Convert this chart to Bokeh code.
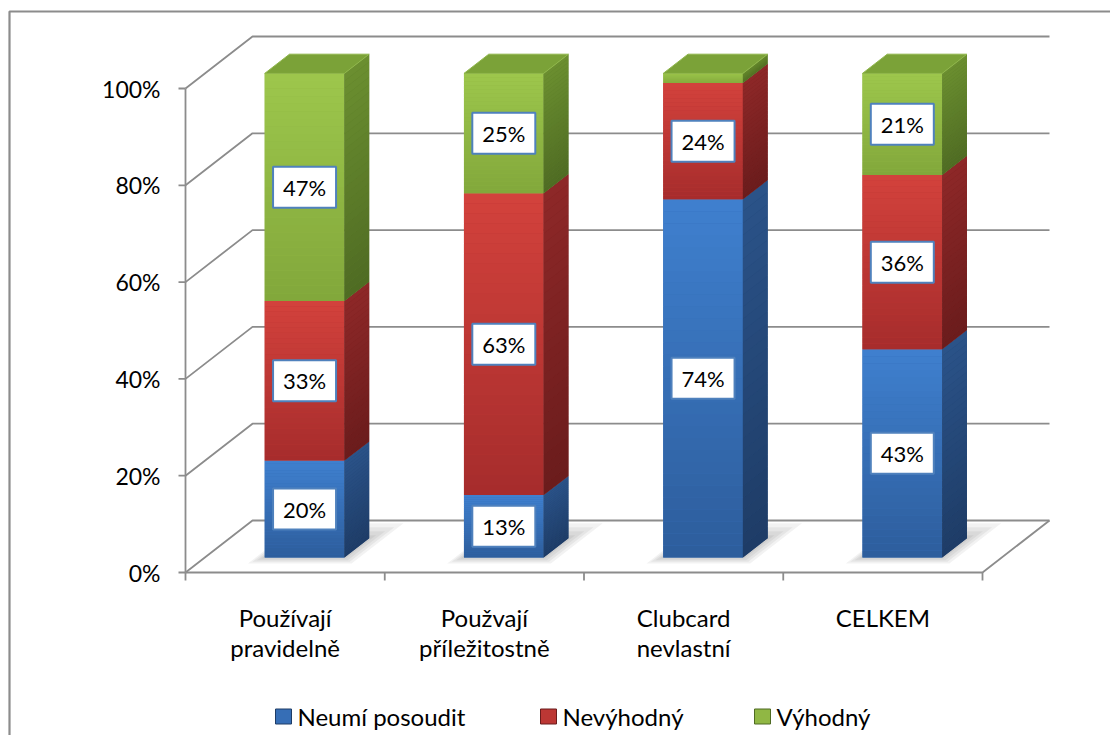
import math
from bokeh.plotting import figure
from bokeh.models import Range1d, ColumnDataSource
from bokeh.core.properties import value
from bokeh.embed import file_html
from bokeh.resources import INLINE

# ---- data -------------------------------------------------------------
categories = [
    ["Používají", "pravidelně"],
    ["Použvají", "příležitostně"],
    ["Clubcard", "nevlastní"],
    ["CELKEM"],
]
series_names = ["Neumí posoudit", "Nevýhodný", "Výhodný"]
neumi_posoudit = [20, 13, 74, 43]
nevyhodny = [33, 63, 24, 36]
vyhodny = [47, 25, 2, 21]
y_ticks = [0, 20, 40, 60, 80, 100]
y_tick_labels = ["0%", "20%", "40%", "60%", "80%", "100%"]

series_values = [neumi_posoudit, nevyhodny, vyhodny]

# ---- styling ----------------------------------------------------------
FONT = "Lato"
GRID = "#8c8c8c"
# (front top, front bottom, side top, side bottom, top face)
PALETTE = [
    ("#3f80cf", "#2d5d9c", "#2b5389", "#1e3c66", "#3569ad"),
    ("#d3423c", "#a62c2c", "#8e2828", "#6a1c1c", "#b53434"),
    ("#9dc74c", "#82a73b", "#6b8f30", "#4f6b23", "#7ba238"),
]

# ---- layout: pixels per category / per percent on the front plane -----
W, H = 1110, 735
SX, SY = 199.25, 4.84
OX, OY = 185, 572            # front-plane origin on the page
DX, DY = 67 / SX, 52 / SY    # full depth of the 3-D box in data units
F0, F1 = 0.29, 0.66          # bar depth slot (fraction of box depth)
BAR_W = 0.40
N = len(categories)


def px_x(px):
    return (px - OX) / SX


def px_y(py):
    return (OY - py) / SY


p = figure(width=W, height=H, output_backend="svg", toolbar_location=None,
           x_range=Range1d(px_x(0), px_x(W)), y_range=Range1d(px_y(H), px_y(0)),
           min_border=0, x_axis_location=None, y_axis_location=None)
p.grid.visible = False
p.outline_line_color = None
p.background_fill_color = "white"
p.border_fill_color = "white"

# chart-area border (only the top and left edges fall inside the page)
p.line([px_x(9), px_x(9), px_x(W + 5)], [px_y(H + 5), px_y(11), px_y(11)],
       line_color=GRID, line_width=2.2)

# ---- walls, floor, gridlines ----------------------------------------
gx, gy = [], []
for v in y_ticks:
    gx.append([0, DX, N + DX])
    gy.append([v, v + DY, v + DY])
gx.append([0, N, N + DX])
gy.append([0, 0, DY])
gx.append([0, 0])
gy.append([0, 100])
p.multi_line(gx, gy, line_color=GRID, line_width=1.8)

# tick marks
p.ray(x=[0] * len(y_ticks), y=y_ticks, length=7, length_units="screen",
      angle=math.pi, line_color=GRID, line_width=1.8)
p.ray(x=list(range(N + 1)), y=[0] * (N + 1), length=8, length_units="screen",
      angle=-math.pi / 2, line_color=GRID, line_width=1.8)

p.text(x=[0] * len(y_ticks), y=y_ticks, text=y_tick_labels, x_offset=-25,
       text_align="right", text_baseline="middle", text_font=value(FONT),
       text_font_size="23px", text_color="#000000")

# category labels (one or two lines each)
for i, lines in enumerate(categories):
    for k, line in enumerate(lines):
        p.text(x=[i + 0.5], y=[0], text=[line], y_offset=45 + 30 * k,
               text_align="center", text_baseline="middle",
               text_font=value(FONT), text_font_size="24px",
               text_color="#000000")

# ---- soft floor shadows ---------------------------------------------
sh_xs, sh_ys = [], []
for i in range(N):
    c = i + 0.5
    for m in (3, 7, 11, 15):
        mx, mf = m / SX, m / 52
        f_a, f_b = F0 - mf * 0.4, F1 + mf
        xl, xr = c - BAR_W / 2 - mx * 0.6, c + BAR_W / 2 + mx
        sh_xs.append([xl + f_a * DX, xr + f_a * DX, xr + f_b * DX, xl + f_b * DX])
        sh_ys.append([f_a * DY, f_a * DY, f_b * DY, f_b * DY])
p.patches(sh_xs, sh_ys, fill_color="#000000", fill_alpha=0.05, line_color=None)


# ---- stacked 3-D bars ------------------------------------------------
def hex_rgb(h):
    return tuple(int(h[j:j + 2], 16) for j in (1, 3, 5))


def lerp(c1, c2, t):
    a, b = hex_rgb(c1), hex_rgb(c2)
    return "#%02x%02x%02x" % tuple(round(a[j] + (b[j] - a[j]) * t) for j in range(3))


STRIPS = 30
fq = dict(left=[], right=[], bottom=[], top=[], color=[])
sp_x, sp_y, sp_c = [], [], []
tp_x, tp_y, tp_c = [], [], []
lab = dict(x=[], y=[], text=[])

for i in range(N):
    total = sum(s[i] for s in series_values)
    c = i + 0.5
    xl = c - BAR_W / 2 + F0 * DX
    xr = c + BAR_W / 2 + F0 * DX
    base = 0.0
    for s, vals in enumerate(series_values):
        share = vals[i] / total * 100
        b, t = base, base + share
        ft, fb, st, sb, tc = PALETTE[s]
        # base fill for the whole segment, gradient strips over it
        fq["left"].append(xl); fq["right"].append(xr)
        fq["bottom"].append(b + F0 * DY); fq["top"].append(t + F0 * DY)
        fq["color"].append(lerp(ft, fb, 0.5))
        sp_x.append([xr, xr + (F1 - F0) * DX, xr + (F1 - F0) * DX, xr])
        sp_y.append([b + F0 * DY, b + F1 * DY, t + F1 * DY, t + F0 * DY])
        sp_c.append(lerp(st, sb, 0.5))
        for k in range(STRIPS):
            y0 = b + share * k / STRIPS
            y1 = b + share * (k + 1) / STRIPS
            frac = 1 - (k + 0.5) / STRIPS
            fq["left"].append(xl); fq["right"].append(xr)
            fq["bottom"].append(y0 + F0 * DY); fq["top"].append(y1 + F0 * DY)
            fq["color"].append(lerp(ft, fb, frac))
            sp_x.append([xr, xr + (F1 - F0) * DX, xr + (F1 - F0) * DX, xr])
            sp_y.append([y0 + F0 * DY, y0 + F1 * DY, y1 + F1 * DY, y1 + F0 * DY])
            sp_c.append(lerp(st, sb, frac))
        if vals[i] >= 5:  # the thin 2 % sliver carries no label
            lab["x"].append(c + F0 * DX)
            lab["y"].append((b + t) / 2 + F0 * DY)
            lab["text"].append(f"{vals[i]}%")
        base = t
    # top face of the stack
    tc = PALETTE[-1][4]
    d = (F1 - F0) * DX
    tp_x.append([xl, xr, xr + d, xl + d])
    tp_y.append([base + F0 * DY, base + F0 * DY, base + F1 * DY, base + F1 * DY])
    tp_c.append(tc)

p.quad(source=ColumnDataSource(fq), left="left", right="right", bottom="bottom",
       top="top", fill_color="color", line_color=None)
p.patches(source=ColumnDataSource(dict(xs=sp_x, ys=sp_y, color=sp_c)),
          xs="xs", ys="ys", fill_color="color", line_color=None)
p.patches(source=ColumnDataSource(dict(xs=tp_x, ys=tp_y, color=tp_c)),
          xs="xs", ys="ys", fill_color="color", line_color="#8fb64a", line_width=1)

# ---- value labels ----------------------------------------------------
lsrc = ColumnDataSource(lab)
p.rect(x="x", y="y", width=63, height=41, width_units="screen",
       height_units="screen", source=lsrc, fill_color="white",
       line_color="#4f81bd", line_width=2)
p.text(x="x", y="y", text="text", source=lsrc, text_align="center",
       text_baseline="middle", text_font=value(FONT), text_font_size="22px",
       text_color="#000000")

# ---- legend ----------------------------------------------------------
leg_px = [275, 540, 754]
for s, name in enumerate(series_names):
    ft, fb, st, sb, tc = PALETTE[s]
    p.rect(x=[px_x(leg_px[s] + 8)], y=[px_y(716)], width=16, height=15,
           width_units="screen", height_units="screen",
           fill_color=lerp(ft, fb, 0.5), line_color=sb, line_width=1)
    p.text(x=[px_x(leg_px[s] + 22)], y=[px_y(716)], text=[name],
           text_align="left", text_baseline="middle", text_font=value(FONT),
           text_font_size="24px", text_color="#000000")

open("out.html", "w").write(file_html(p, INLINE))
